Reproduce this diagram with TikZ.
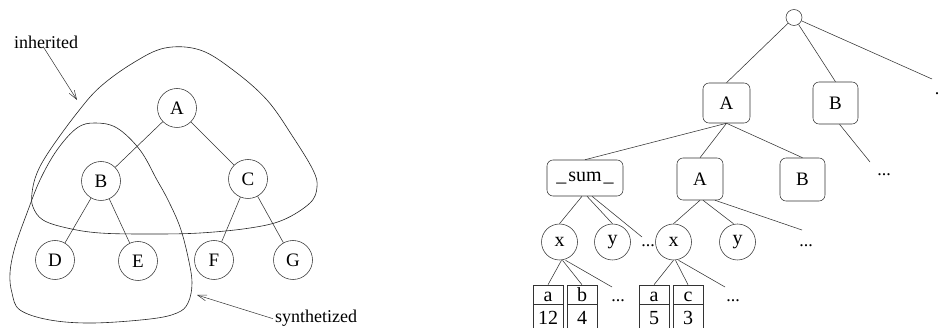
\documentclass[tikz,border=0pt]{standalone}
\usepackage{fontspec}
\setmainfont{Liberation Serif}
\usetikzlibrary{arrows.meta}
\begin{document}
\begin{tikzpicture}[x=1pt,y=-1pt,
  every node/.style={font=\fontsize{18}{20}\selectfont, inner sep=0pt},
  big/.style={font=\fontsize{20}{22}\selectfont},
  ln/.style={draw=black!80, line width=0.55pt},
  circ/.style={circle, draw=black!80, line width=0.55pt, minimum size=39pt, font=\fontsize{19}{21}\selectfont},
  scirc/.style={circle, draw=black!80, line width=0.55pt, minimum size=36pt, big},
  rbox/.style={draw=black!80, line width=0.55pt, rounded corners=6pt, minimum width=46pt, minimum height=41pt},
  celltop/.style={draw=black!80, line width=0.55pt, minimum width=30pt, minimum height=19pt, text height=15pt, text depth=0pt, big},
  cellbot/.style={draw=black!80, line width=0.55pt, minimum width=30pt, minimum height=26pt, text height=16pt, text depth=0pt, big},
  arr/.style={draw=black!80, line width=0.5pt, -{Straight Barb[length=9pt,width=6pt]}},
  blob/.style={draw=black!85, line width=0.6pt}
]
\useasboundingbox (0,0) rectangle (942,328);

% ---------------- left tree ----------------
\node[circ] (A) at (177,108) {A};
\node[circ] (B) at (101,181) {B};
\node[circ] (C) at (248,179) {C};
\node[circ] (D) at (55,260) {D};
\node[circ] (E) at (138,261) {E};
\node[circ] (F) at (214,260) {F};
\node[circ] (G) at (293,260) {G};
\draw[ln] (A) -- (B);
\draw[ln] (A) -- (C);
\draw[ln] (B) -- (D);
\draw[ln] (B) -- (E);
\draw[ln] (C) -- (F);
\draw[ln] (C) -- (G);

% inherited region
\draw[blob] plot[smooth cycle, tension=0.6] coordinates {
 (165,48) (200,50) (233,70) (267,100) (293,137) (313,170) (317,187) (310,203)
 (283,220) (250,228) (200,233) (150,234) (100,233) (67,228) (43,220) (33,207)
 (32,193) (37,173) (50,150) (77,113) (100,87) (133,63)};
% synthetized region
\draw[blob] plot[smooth cycle, tension=0.6] coordinates {
 (95,123) (117,128) (140,150) (157,180) (168,200) (180,227) (188,257) (192,283)
 (188,303) (177,313) (150,319) (93,323) (50,320) (20,310) (12,293) (10,273)
 (15,247) (27,213) (40,180) (57,150) (77,128)};

\node[anchor=base] (inh) at (46,49) {inherited};
\coordinate (inhtip) at (77,100);
\draw[arr] ([xshift=-3pt,yshift=3pt]inh.south) -- (inhtip);

\node[anchor=base west, inner sep=2pt] (syn) at (273,323) {synthetized};
\coordinate (syntip) at (197,295);
\draw[arr] (syn.west) -- (syntip);

% ---------------- right tree ----------------
\node[circle, draw=black!80, line width=0.55pt, minimum size=16pt] (root) at (794,17.5) {};
\node[rbox, minimum width=47pt, minimum height=40pt, font=\fontsize{19}{21}\selectfont] (RA) at (726.5,103) {A};
\node[rbox, minimum width=45pt, minimum height=42pt, font=\fontsize{19}{21}\selectfont] (RB) at (835.5,103) {B};
\coordinate (rootend) at (932,79);
\node[anchor=base] (dot) at (937,95) {.};
\draw[ln] (root) -- (RA.north);
\draw[ln] (root) -- (RB.north);
\draw[ln] (root) -- (rootend);

\coordinate (bend) at (870,162);
\node (bdots) at (884,175) {...};
\draw[ln] ([xshift=4pt]RB.south) -- (bend);

\node[rbox, minimum width=76pt, minimum height=36pt, big] (sum) at (585,178) {\_\kern2pt sum\kern2pt\_};
\node[rbox, minimum width=46pt, minimum height=42pt, font=\fontsize{19}{21}\selectfont] (A2) at (700,179) {A};
\node[rbox, minimum width=45pt, minimum height=43pt, font=\fontsize{19}{21}\selectfont] (B2) at (802.5,179.5) {B};
\draw[ln] (RA.south) -- (sum.north);
\draw[ln] (RA.south) -- (A2.north);
\draw[ln] (RA.south) -- (B2.north);

\node[scirc] (x1) at (559.5,242) {x};
\node[scirc] (y1) at (612.5,242) {y};
\node (d1) at (648,246) {...};
\coordinate (d1end) at (642,237);
\node[scirc] (x2) at (673.5,242) {x};
\node[scirc] (y2) at (737.5,242) {y};
\node (d2) at (806,246) {...};
\coordinate (d2end) at (802,230);
\draw[ln] ([xshift=-3pt]sum.south) -- (x1.north);
\draw[ln] ([xshift=2pt]sum.south) -- (y1.north);
\draw[ln] ([xshift=7pt]sum.south) -- (d1end);
\draw[ln] (A2.south) -- (x2.north);
\draw[ln] ([xshift=3pt]A2.south) -- ([xshift=-4pt]y2.north);
\draw[ln] ([xshift=15pt]A2.south) -- (d2end);

% attribute cells
\node[celltop] (a1) at (548,294.5) {a};
\node[cellbot] (a1v) at (548,317) {12};
\node[celltop] (b1) at (582,294.5) {b};
\node[cellbot] (b1v) at (582,317) {4};
\node (d3) at (618,301) {...};
\coordinate (d3end) at (612,287);
\node[celltop] (a2) at (654,294.5) {a};
\node[cellbot] (a2v) at (654,317) {5};
\node[celltop] (c2) at (688,294.5) {c};
\node[cellbot] (c2v) at (688,317) {3};
\node (d4) at (733,301) {...};
\coordinate (d4end) at (725,287);
\draw[ln] ([xshift=2pt]x1.south) -- (a1.north);
\draw[ln] ([xshift=3pt]x1.south) -- (b1.north);
\draw[ln] ([xshift=6pt]x1.south) -- (d3end);
\draw[ln] (x2.south) -- (a2.north);
\draw[ln] ([xshift=2pt]x2.south) -- (c2.north);
\draw[ln] ([xshift=5pt]x2.south) -- (d4end);
\end{tikzpicture}
\end{document}
